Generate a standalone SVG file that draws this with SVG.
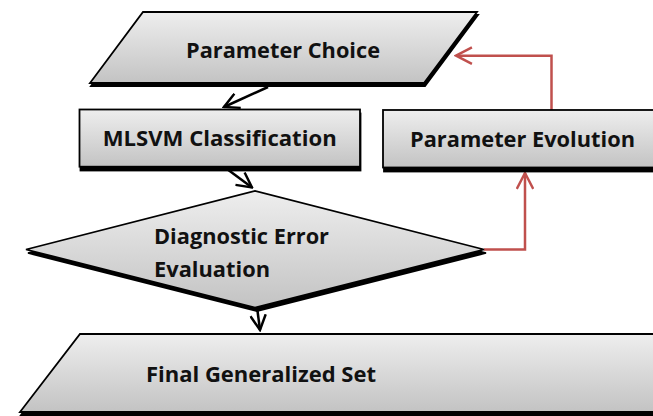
<svg xmlns="http://www.w3.org/2000/svg" width="653" height="416" viewBox="0 0 653 416">
<style>
.shape{fill:url(#g);stroke:#000;stroke-width:1.8;stroke-linejoin:miter}
.shadow{fill:#000;stroke:#000;stroke-width:1.8}
.lbl{font-family:"Open Sans","Liberation Sans",sans-serif;font-weight:700;font-size:22px;fill:#111}
.blk{fill:none;stroke:#000;stroke-width:2.5}
.red{fill:none;stroke:#c0504d;stroke-width:2.5}
</style>
<defs>
<linearGradient id="g" x1="0" y1="0" x2="0" y2="1">
<stop offset="0" stop-color="#eeeeee"/>
<stop offset="1" stop-color="#c3c3c3"/>
</linearGradient>
<marker id="ab" viewBox="0 0 10 10" refX="9" refY="5" markerWidth="7" markerHeight="7" orient="auto" markerUnits="strokeWidth">
<path d="M0.5,0.6 L9,5 L0.5,9.4" fill="none" stroke="#000" stroke-width="1.4"/>
</marker>
<marker id="ar" viewBox="0 0 10 10" refX="9" refY="5" markerWidth="7.5" markerHeight="7.5" orient="auto" markerUnits="strokeWidth">
<path d="M0.5,0.6 L9,5 L0.5,9.4" fill="none" stroke="#c0504d" stroke-width="1.3"/>
</marker>
</defs>
<rect width="653" height="416" fill="#fff"/>
<g id="connectors">
<line class="blk" x1="268" y1="87" x2="224" y2="107" marker-end="url(#ab)"/>
<line class="blk" x1="227" y1="169" x2="252" y2="187.5" marker-end="url(#ab)"/>
<line class="blk" x1="257" y1="307" x2="260" y2="330" marker-end="url(#ab)"/>
<polyline class="red" points="484,249.5 525,249.5 525,173" marker-end="url(#ar)"/>
<polyline class="red" points="551.5,110 551.5,55.7 456,55.7" marker-end="url(#ar)"/>
</g>
<g id="parameter-choice">
<polygon class="shadow" points="144,15 478,15 425,86 91,86"/>
<polygon class="shape" points="143,12 477,12 424,83 90,83"/>
<text class="lbl" x="186" y="57.5" textLength="194" lengthAdjust="spacingAndGlyphs">Parameter Choice</text>
</g>
<g id="mlsvm-classification">
<rect class="shadow" x="80.5" y="113.5" width="280" height="57"/>
<rect class="shape" x="79.5" y="109.5" width="280.5" height="57.2"/>
<text class="lbl" x="102.7" y="146" textLength="234" lengthAdjust="spacingAndGlyphs">MLSVM Classification</text>
</g>
<g id="parameter-evolution">
<rect class="shadow" x="384" y="114" width="290" height="57.5"/>
<rect class="shape" x="383" y="110" width="290" height="57.5"/>
<text class="lbl" x="410" y="147" textLength="225" lengthAdjust="spacingAndGlyphs">Parameter Evolution</text>
</g>
<g id="diagnostic-error-evaluation">
<polygon class="shadow" points="28,253 257,194 486,253 257,311"/>
<polygon class="shape" points="26,249.5 255,191 484,249.5 255,307.5"/>
<text class="lbl" x="154" y="244" textLength="175" lengthAdjust="spacingAndGlyphs">Diagnostic Error</text>
<text class="lbl" x="154" y="277" textLength="116" lengthAdjust="spacingAndGlyphs">Evaluation</text>
</g>
<g id="final-generalized-set">
<polygon class="shadow" points="81,337 721,337 661,415 21,415"/>
<polygon class="shape" points="80,334 720,334 660,412 20,412"/>
<text class="lbl" x="146" y="382" textLength="230" lengthAdjust="spacingAndGlyphs">Final Generalized Set</text>
</g>
</svg>
